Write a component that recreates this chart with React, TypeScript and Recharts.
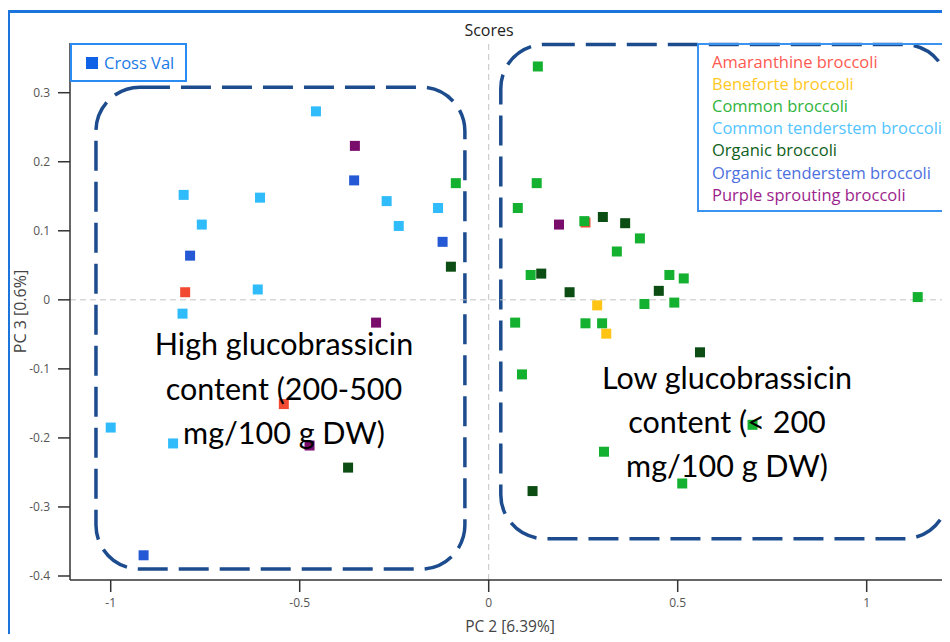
import {
  ScatterChart,
  Scatter,
  XAxis,
  YAxis,
  ReferenceLine,
  ReferenceArea,
  Label,
} from "recharts";

type Pt = { x: number; y: number };

// PC2 / PC3 scores
const amaranthine: Pt[] = [
  { x: -0.803, y: 0.011 },
  { x: -0.542, y: -0.151 },
  { x: 0.256, y: 0.112 },
];

const beneforte: Pt[] = [
  { x: 0.287, y: -0.008 },
  { x: 0.311, y: -0.049 },
];

const common: Pt[] = [
  { x: -0.087, y: 0.169 },
  { x: 0.13, y: 0.338 },
  { x: 0.127, y: 0.169 },
  { x: 0.077, y: 0.133 },
  { x: 0.253, y: 0.114 },
  { x: 0.4, y: 0.089 },
  { x: 0.339, y: 0.07 },
  { x: 0.111, y: 0.036 },
  { x: 0.478, y: 0.036 },
  { x: 0.516, y: 0.031 },
  { x: 0.412, y: -0.006 },
  { x: 0.491, y: -0.004 },
  { x: 1.135, y: 0.004 },
  { x: 0.07, y: -0.033 },
  { x: 0.256, y: -0.034 },
  { x: 0.3, y: -0.034 },
  { x: 0.088, y: -0.108 },
  { x: 0.698, y: -0.181 },
  { x: 0.305, y: -0.22 },
  { x: 0.512, y: -0.266 },
];

const commonTenderstem: Pt[] = [
  { x: -0.457, y: 0.273 },
  { x: -0.807, y: 0.152 },
  { x: -0.605, y: 0.148 },
  { x: -0.27, y: 0.143 },
  { x: -0.134, y: 0.133 },
  { x: -0.759, y: 0.109 },
  { x: -0.238, y: 0.107 },
  { x: -0.611, y: 0.015 },
  { x: -0.81, y: -0.02 },
  { x: -1.0, y: -0.185 },
  { x: -0.835, y: -0.208 },
];

const organic: Pt[] = [
  { x: -0.1, y: 0.048 },
  { x: -0.372, y: -0.243 },
  { x: 0.302, y: 0.12 },
  { x: 0.361, y: 0.111 },
  { x: 0.139, y: 0.038 },
  { x: 0.214, y: 0.011 },
  { x: 0.45, y: 0.013 },
  { x: 0.559, y: -0.076 },
  { x: 0.116, y: -0.277 },
];

const organicTenderstem: Pt[] = [
  { x: -0.356, y: 0.173 },
  { x: -0.122, y: 0.084 },
  { x: -0.79, y: 0.064 },
  { x: -0.913, y: -0.37 },
];

const purple: Pt[] = [
  { x: -0.354, y: 0.223 },
  { x: -0.298, y: -0.033 },
  { x: -0.474, y: -0.211 },
  { x: 0.186, y: 0.109 },
];

const groupNames = [
  "Amaranthine broccoli",
  "Beneforte broccoli",
  "Common broccoli",
  "Common tenderstem broccoli",
  "Organic broccoli",
  "Organic tenderstem broccoli",
  "Purple sprouting broccoli",
];
const groupData = [amaranthine, beneforte, common, commonTenderstem, organic, organicTenderstem, purple];
const markerColors = ["#f24a32", "#ffc414", "#14b030", "#30bcfa", "#0b4d12", "#2458d4", "#7a0d6c"];
const legendColors = ["#ff5a52", "#ffc81e", "#2fb43c", "#52c4ff", "#0f6020", "#4d70e0", "#9c1f8c"];

const xTicks = [-1, -0.5, 0, 0.5, 1];
const yTicks = [0.3, 0.2, 0.1, 0, -0.1, -0.2, -0.3, -0.4];

const highText = ["High glucobrassicin", "content (200-500", "mg/100 g DW)"];
const lowText = ["Low glucobrassicin", "content (< 200", "mg/100 g DW)"];

const Square = (props: any) => {
  const { cx, cy, fill } = props;
  return <rect x={cx - 5} y={cy - 5} width={10} height={10} fill={fill} />;
};

const DashedBox = (props: any) => (
  <rect
    x={props.x}
    y={props.y}
    width={props.width}
    height={props.height}
    rx={44}
    ry={44}
    fill="none"
    stroke="#1d4c8e"
    strokeWidth={3.5}
    strokeDasharray="30 11"
  />
);

export default function App() {
  return (
    <div
      style={{
        position: "relative",
        width: 950,
        height: 642,
        margin: -8,
        background: "#fff",
        overflow: "hidden",
        fontFamily: "'Open Sans', sans-serif",
      }}
    >
      {/* outer frame, only top and left are in view */}
      <div
        style={{
          position: "absolute",
          left: 7,
          top: 10,
          width: 960,
          height: 660,
          borderTop: "3px solid #1b75dc",
          borderLeft: "3px solid #1b75dc",
        }}
      />

      <ScatterChart
        width={950}
        height={642}
        margin={{ top: 43, right: 0, bottom: 0, left: 8 }}
        style={{ position: "absolute", left: 0, top: 0 }}
      >
        <XAxis
          type="number"
          dataKey="x"
          domain={[-1.1077, 1.2204]}
          ticks={xTicks}
          allowDataOverflow
          height={62}
          tickSize={12}
          tickMargin={6}
          stroke="#333"
          strokeWidth={1.5}
          tick={{ fill: "#555", fontSize: 12 }}
        >
          <Label value="PC 2 [6.39%]" position="insideBottom" offset={10} fill="#444" fontSize={15.5} />
        </XAxis>
        <YAxis
          type="number"
          dataKey="y"
          domain={[-0.4058, 0.372]}
          ticks={yTicks}
          allowDataOverflow
          width={62}
          tickSize={12}
          tickMargin={8}
          stroke="#333"
          strokeWidth={1.5}
          tick={{ fill: "#555", fontSize: 12 }}
        >
          <Label
            content={({ viewBox }: any) => {
              const x = viewBox.x + 12;
              const y = viewBox.y + viewBox.height / 2;
              return (
                <text
                  x={x}
                  y={y}
                  transform={`rotate(-90, ${x}, ${y})`}
                  textAnchor="middle"
                  dominantBaseline="central"
                  fill="#444"
                  fontSize={16}
                >
                  PC 3 [0.6%]
                </text>
              );
            }}
          />
        </YAxis>

        <ReferenceLine x={0} stroke="#c4c4c4" strokeDasharray="6 4" />
        <ReferenceLine y={0} stroke="#c4c4c4" strokeDasharray="6 4" />

        {groupNames.map((name, i) => (
          <Scatter
            key={name}
            name={name}
            data={groupData[i]}
            fill={markerColors[i]}
            shape={Square}
            isAnimationActive={false}
          />
        ))}

        <ReferenceArea x1={-1.039} x2={-0.063} y1={-0.39} y2={0.308} shape={DashedBox} ifOverflow="visible" />
        <ReferenceArea x1={0.032} x2={1.215} y1={-0.346} y2={0.37} shape={DashedBox} ifOverflow="visible" />
      </ScatterChart>

      <div
        style={{
          position: "absolute",
          left: 0,
          width: 978,
          top: 19,
          textAlign: "center",
          fontSize: 16,
          color: "#222",
        }}
      >
        Scores
      </div>

      {/* Cross Val box */}
      <div
        style={{
          position: "absolute",
          left: 70,
          top: 43,
          width: 113,
          height: 35,
          border: "2px solid #2a8cf2",
          background: "#fff",
          display: "flex",
          alignItems: "center",
        }}
      >
        <span style={{ width: 12, height: 12, background: "#0f62e6", marginLeft: 14, marginRight: 6 }} />
        <span style={{ color: "#1a7ae6", fontSize: 16.5 }}>Cross Val</span>
      </div>

      {/* group legend */}
      <div
        style={{
          position: "absolute",
          left: 697,
          top: 43,
          width: 270,
          height: 169,
          border: "2px solid #3a93f0",
          paddingTop: 5.5,
          boxSizing: "border-box",
        }}
      >
        {groupNames.map((name, i) => (
          <div
            key={name}
            style={{
              color: legendColors[i],
              fontSize: 16.5,
              lineHeight: "22.2px",
              paddingLeft: 13,
              whiteSpace: "nowrap",
            }}
          >
            {name}
          </div>
        ))}
      </div>

      {/* annotations */}
      <div
        style={{
          position: "absolute",
          left: 134,
          width: 300,
          top: 321,
          textAlign: "center",
          fontFamily: "Lato, sans-serif",
          fontSize: 30.5,
          lineHeight: "44.5px",
          color: "#000",
        }}
      >
        {highText.map((t) => (
          <div key={t}>{t}</div>
        ))}
      </div>
      <div
        style={{
          position: "absolute",
          left: 577,
          width: 300,
          top: 355,
          textAlign: "center",
          fontFamily: "Lato, sans-serif",
          fontSize: 30.5,
          lineHeight: "44px",
          color: "#000",
        }}
      >
        {lowText.map((t) => (
          <div key={t}>{t}</div>
        ))}
      </div>
    </div>
  );
}
